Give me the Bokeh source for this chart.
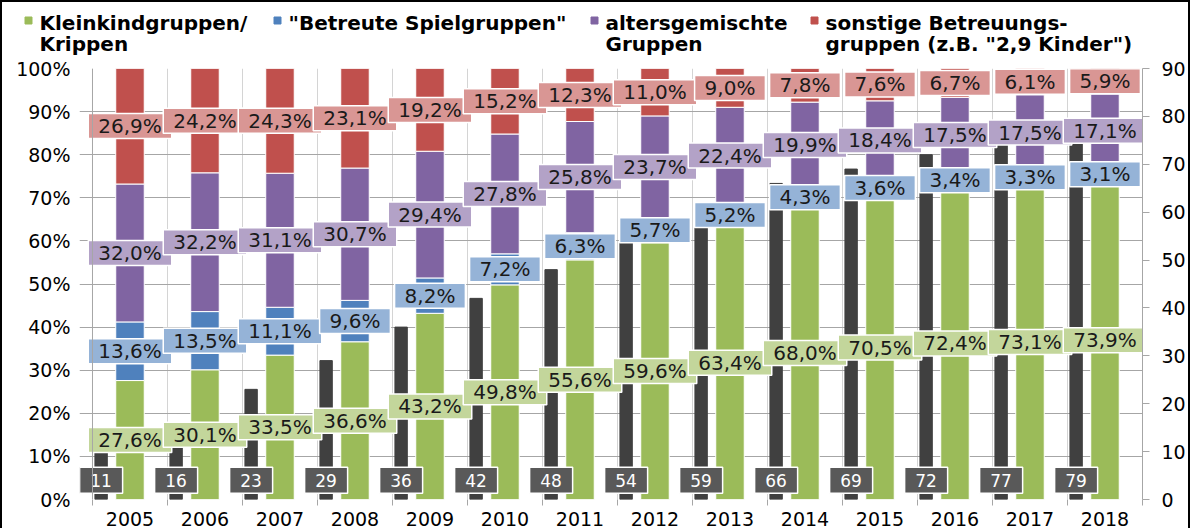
from bokeh.plotting import figure
from bokeh.layouts import column, row
from bokeh.models import ColumnDataSource, Range1d, LinearAxis, FixedTicker, Span
from bokeh.core.properties import value
from bokeh.embed import file_html
from bokeh.resources import INLINE

# ---------------- data ----------------
years = ["2005", "2006", "2007", "2008", "2009", "2010", "2011",
         "2012", "2013", "2014", "2015", "2016", "2017", "2018"]
kleinkind = [27.6, 30.1, 33.5, 36.6, 43.2, 49.8, 55.6, 59.6, 63.4, 68.0, 70.5, 72.4, 73.1, 73.9]
spielgruppen = [13.6, 13.5, 11.1, 9.6, 8.2, 7.2, 6.3, 5.7, 5.2, 4.3, 3.6, 3.4, 3.3, 3.1]
altersgemischt = [32.0, 32.2, 31.1, 30.7, 29.4, 27.8, 25.8, 23.7, 22.4, 19.9, 18.4, 17.5, 17.5, 17.1]
sonstige = [26.9, 24.2, 24.3, 23.1, 19.2, 15.2, 12.3, 11.0, 9.0, 7.8, 7.6, 6.7, 6.1, 5.9]
anzahl = [11, 16, 23, 29, 36, 42, 48, 54, 59, 66, 69, 72, 77, 79]
legend_line1 = ["Kleinkindgruppen/", "\"Betreute Spielgruppen\"", "altersgemischte", "sonstige Betreuungs-"]
legend_line2 = ["Krippen", "", "Gruppen", "gruppen (z.B. \"2,9 Kinder\")"]
left_ticks = [0, 10, 20, 30, 40, 50, 60, 70, 80, 90, 100]
right_ticks = [0, 10, 20, 30, 40, 50, 60, 70, 80, 90]

# ---------------- styles ----------------
bar_colors = ["#9BBB59", "#4F81BD", "#8064A2", "#C0504D"]
box_colors = ["#C3D69B", "#95B3D7", "#B3A2C7", "#D99694"]
FONT = "DejaVu Sans"
GRID = "#A6A6A6"
W = 1186
LEG_H = 54

n = len(years)
xs = list(range(n))
series = [kleinkind, spielgruppen, altersgemischt, sonstige]
keys = ["k", "s", "a", "o"]

# ---------------- legend strip (pixel space) ----------------
leg = figure(width=W, height=LEG_H, output_backend="svg", toolbar_location=None,
             x_range=Range1d(2, 2 + W), y_range=Range1d(2 + LEG_H, 2),
             min_border=0, min_border_left=0, min_border_right=0,
             min_border_top=0, min_border_bottom=0)
leg.axis.visible = False
leg.grid.visible = False
leg.outline_line_color = None
text_x = [39, 288, 605, 825]
leg_src = ColumnDataSource(dict(x=text_x, sx=[t - 11 for t in text_x], sy=[20] * 4,
                                y1=[22] * 4, y2=[43] * 4, t1=legend_line1, t2=legend_line2,
                                c=bar_colors))
leg.rect(x="sx", y="sy", width=7, height=7, width_units="screen", height_units="screen",
         fill_color="c", line_color="c", source=leg_src)
for ycol, tcol in (("y1", "t1"), ("y2", "t2")):
    leg.text(x="x", y=ycol, text=tcol, source=leg_src, text_font=value(FONT),
             text_font_size="20px", text_font_style="bold", text_color="black",
             text_align="left", text_baseline="alphabetic")

# ---------------- main chart ----------------
x_start = -0.5 - 13 / 75.07
p = figure(width=W, height=528 - 2 - LEG_H, output_backend="svg", toolbar_location=None,
           x_range=Range1d(x_start, n - 0.5), y_range=Range1d(0, 100),
           min_border_left=77, min_border_right=45, min_border_top=12,
           min_border_bottom=26)
p.outline_line_color = None
p.extra_y_ranges = {"anz": Range1d(0, 90)}

p.ygrid.ticker = FixedTicker(ticks=left_ticks)
p.ygrid.grid_line_color = GRID
p.xgrid.ticker = FixedTicker(ticks=xs, minor_ticks=[i - 0.5 for i in range(n + 1)])
p.xgrid.grid_line_color = None
p.xgrid.minor_grid_line_color = "#D4D4D4"
p.add_layout(Span(location=-0.5, dimension="height", line_color=GRID, line_width=1))

# count bars (right axis)
src_n = ColumnDataSource(dict(x=[i - 0.385 for i in xs], n=anzahl,
                              lab=[str(v) for v in anzahl]))
p.vbar(x="x", top="n", width=0.165, source=src_n, y_range_name="anz",
       fill_color="#404040", line_color="#404040")

# stacked percentage bars
data = dict(x=xs)
for k, s in zip(keys, series):
    data[k] = s
src = ColumnDataSource(data)
p.vbar_stack(keys, x="x", width=0.38, source=src, fill_color=bar_colors,
             line_color="white", line_width=1)

# count labels
src_n.data["ly"] = [4.0] * n
p.rect(x="x", y="ly", width=43, height=26, width_units="screen", height_units="screen",
       source=src_n, y_range_name="anz", fill_color="#595959", line_color="white", line_width=1.5)
p.text(x="x", y="ly", text="lab", source=src_n, y_range_name="anz",
       text_font=value(FONT), text_font_size="17px", text_color="white",
       text_align="center", text_baseline="middle")

# percentage labels
cw = {",": 0.318, "%": 0.95}
bottom = [0.0] * n
for s, bc in zip(series, box_colors):
    mids, texts, widths = [], [], []
    for i, v in enumerate(s):
        mids.append(bottom[i] + v / 2)
        bottom[i] += v
        t = f"{v:.1f}".replace(".", ",") + "%"
        texts.append(t)
        widths.append(sum(cw.get(c, 0.636) for c in t) * 20 + 20)
    ls = ColumnDataSource(dict(x=xs, y=mids, t=texts, w=widths))
    p.rect(x="x", y="y", width="w", height=25, width_units="screen", height_units="screen",
           source=ls, fill_color=bc, line_color="white", line_width=1.5)
    p.text(x="x", y="y", text="t", source=ls, text_font=value(FONT), text_font_size="20px",
           text_color="#1a1a1a", text_align="center", text_baseline="middle")

# axes
def style_axis(ax):
    ax.axis_line_color = GRID
    ax.major_tick_line_color = GRID
    ax.minor_tick_line_color = None
    ax.major_tick_in = 0
    ax.major_tick_out = 7
    ax.major_label_text_font = FONT
    ax.major_label_text_font_size = "19px"
    ax.major_label_text_color = "black"

ly = p.yaxis[0]
ly.ticker = FixedTicker(ticks=left_ticks)
ly.major_label_overrides = {t: f"{t}%" for t in left_ticks}
style_axis(ly)
ly.axis_line_color = None
ly.major_tick_out = 0
ly.major_label_standoff = 9

ry = LinearAxis(y_range_name="anz", ticker=FixedTicker(ticks=right_ticks))
style_axis(ry)
ry.major_label_standoff = 12
p.add_layout(ry, "right")

bx = p.xaxis[0]
bx.ticker = FixedTicker(ticks=xs, minor_ticks=[i - 0.5 for i in range(n + 1)])
bx.major_label_overrides = {i: years[i] for i in xs}
style_axis(bx)
bx.axis_line_color = None
bx.major_tick_out = 0
bx.minor_tick_line_color = GRID
bx.minor_tick_in = 0
bx.minor_tick_out = 6
bx.major_label_standoff = 6

layout = column(row(leg), p, spacing=0,
                styles={"border-top": "2px solid black", "border-left": "2px solid black",
                        "border-right": "2px solid black"})

open("out.html", "w").write(file_html(layout, INLINE))
